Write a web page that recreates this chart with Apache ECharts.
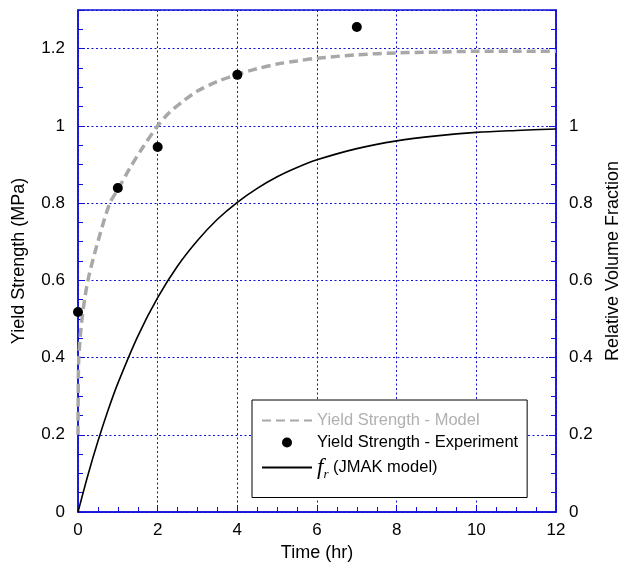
<!DOCTYPE html>
<html>
<head>
<meta charset="utf-8">
<script src="https://cdn.jsdelivr.net/npm/echarts@6/dist/echarts.min.js"></script>
<style>html,body{margin:0;padding:0;background:#fff;}#c{width:622px;height:564px;}</style>
</head>
<body>
<div id="c"></div>
<script>
// Yield Strength - Model (dashed gray) : [time hr, MPa]
const modelTime  = [0, 0.005, 0.02, 0.1, 0.25, 0.5, 0.8, 1.0, 1.3, 1.6, 2.0, 2.3, 2.64, 3.0, 3.5, 4.0, 4.5, 5.0, 5.5, 6.0, 7.0, 8.0, 9.0, 10, 11, 12];
const modelYield = [0.2, 0.3, 0.4, 0.5, 0.6, 0.7, 0.8, 0.835, 0.89, 0.94, 1.0, 1.035, 1.064, 1.09, 1.115, 1.133, 1.148, 1.16, 1.168, 1.175, 1.184, 1.189, 1.191, 1.193, 1.193, 1.193];
// Yield Strength - Experiment
const expTime  = [0, 1, 2, 4, 7];
const expYield = [0.518, 0.839, 0.945, 1.132, 1.256];
// f_r (JMAK model), relative volume fraction (right axis)
const frTime = [0, 0.25, 0.5, 0.75, 1, 1.5, 2, 2.5, 3, 3.5, 4, 4.5, 5, 5.5, 6, 7, 8, 9, 10, 11, 12];
const frVal  = [0, 0.096, 0.183, 0.262, 0.333, 0.455, 0.555, 0.637, 0.703, 0.758, 0.802, 0.838, 0.868, 0.892, 0.912, 0.941, 0.961, 0.974, 0.983, 0.988, 0.992];

const seriesNames = ['Yield Strength - Model', 'Yield Strength - Experiment', 'fr'];
const xTitle = 'Time (hr)';
const yLeftTitle = 'Yield Strength (MPa)';
const yRightTitle = 'Relative Volume Fraction';

const zip = (a, b) => a.map((v, i) => [v, b[i]]);
const BLUE = '#1010d8';
const FONT = 'Liberation Sans';

const chart = echarts.init(document.getElementById('c'), null, {renderer: 'canvas'});
const axisCommon = {
  min: 0, interval: 0.2, max: 1.3,
  axisLine: {show: true, lineStyle: {color: BLUE, width: 1.5}},
  axisTick: {show: true, inside: true, length: 7, lineStyle: {color: BLUE, width: 1}},
  minorTick: {show: true, splitNumber: 4, length: 5, lineStyle: {color: BLUE, width: 1}},
  nameLocation: 'middle',
  nameTextStyle: {fontFamily: FONT, fontSize: 18, color: '#000'},
};
chart.setOption({
  animation: false,
  backgroundColor: '#fff',
  grid: {left: 78, top: 10, right: 66, bottom: 52, outerBoundsMode: 'none', containLabel: false,
         show: true, borderColor: BLUE, borderWidth: 1.5, backgroundColor: 'transparent'},
  xAxis: {
    type: 'value', min: 0, max: 12, interval: 2,
    name: xTitle, nameLocation: 'middle', nameGap: 31,
    nameTextStyle: {fontFamily: FONT, fontSize: 18, color: '#000'},
    axisLine: {show: true, onZero: false, lineStyle: {color: BLUE, width: 1.5}},
    axisTick: {show: true, inside: true, length: 7, lineStyle: {color: BLUE, width: 1}},
    minorTick: {show: true, splitNumber: 4, length: 5, lineStyle: {color: BLUE, width: 1}},
    axisLabel: {fontFamily: FONT, fontSize: 17, color: '#000', margin: 10},
    splitLine: {show: true, lineStyle: {color: BLUE, width: 1, type: [2, 2.5]}}
  },
  yAxis: [
    Object.assign({}, axisCommon, {
      type: 'value', position: 'left', name: yLeftTitle, nameGap: 50,
      axisLabel: {fontFamily: FONT, fontSize: 17, color: '#000', margin: 13, showMaxLabel: false},
      splitLine: {show: true, lineStyle: {color: BLUE, width: 1, type: [2, 2.5]}}
    }),
    Object.assign({}, axisCommon, {
      type: 'value', position: 'right', name: yRightTitle, nameGap: 48,
      axisLabel: {fontFamily: FONT, fontSize: 17, color: '#000', margin: 13,
        formatter: v => (v > 1.0001 ? '' : String(+v.toFixed(2)))},
      splitLine: {show: false}
    })
  ],
  legend: {
    orient: 'vertical', left: 252, top: 400,
    backgroundColor: '#fff', borderColor: '#000', borderWidth: 1, borderRadius: 0,
    padding: [12, 9, 16, 9], itemWidth: 50, itemHeight: 10, itemGap: 5,
    textStyle: {fontFamily: FONT, fontSize: 16.5, color: '#000',
      rich: {
        f: {fontFamily: 'Liberation Serif', fontStyle: 'italic', fontSize: 23, color: '#000'},
        r: {fontFamily: 'Liberation Serif', fontStyle: 'italic', fontSize: 13, color: '#000', padding: [15, 0, 0, 0]},
        t: {fontFamily: FONT, fontSize: 16.5, color: '#000'}
      }},
    formatter: n => (n === 'fr' ? '{f|f}{r|r}{t| (JMAK model)}' : n),
    data: [
      {name: seriesNames[0], textStyle: {color: '#b0b0b0'}, itemStyle: {opacity: 0}},
      {name: seriesNames[1]},
      {name: seriesNames[2], itemStyle: {opacity: 0}}
    ]
  },
  series: [
    {name: seriesNames[0], type: 'line', yAxisIndex: 0, data: zip(modelTime, modelYield),
     symbol: 'none', smooth: 0.3, lineStyle: {color: '#a8a8a8', width: 3.5, type: [9, 5]}, itemStyle: {color: '#a8a8a8'}, z: 3},
    {name: seriesNames[1], type: 'scatter', yAxisIndex: 0, data: zip(expTime, expYield),
     symbol: 'circle', symbolSize: 10, itemStyle: {color: '#000', opacity: 1}, z: 5},
    {name: seriesNames[2], type: 'line', yAxisIndex: 1, data: zip(frTime, frVal),
     symbol: 'none', smooth: 0.3, lineStyle: {color: '#000', width: 1.6}, itemStyle: {color: '#000'}, z: 4}
  ]
});
</script>
</body>
</html>
